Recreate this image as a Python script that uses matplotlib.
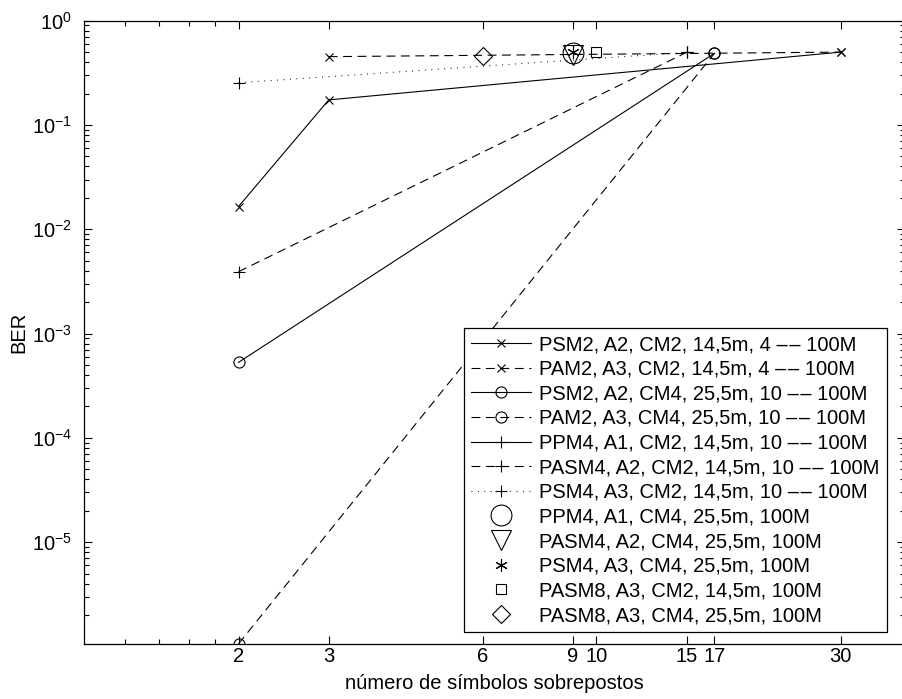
import numpy as np
import matplotlib
matplotlib.use("Agg")
import matplotlib.pyplot as plt
import matplotlib.ticker as ticker

plt.rcParams['font.family'] = ['Liberation Sans', 'DejaVu Sans']
plt.rcParams['mathtext.default'] = 'regular'

# data (BER vs number of overlapped symbols)
x_psm2_cm2 = [2, 3, 30]
ber_psm2_cm2 = [0.0165, 0.174, 0.5]
x_pam2_cm2 = [3, 30]
ber_pam2_cm2 = [0.452, 0.5]
x_psm2_cm4 = [2, 17]
ber_psm2_cm4 = [5.3e-4, 0.487]
x_pam2_cm4 = [2, 17]
ber_pam2_cm4 = [1.06e-6, 0.487]
x_ppm4_cm2 = [15]
ber_ppm4_cm2 = [0.497]
x_pasm4_cm2 = [2, 15]
ber_pasm4_cm2 = [3.92e-3, 0.497]
x_psm4_cm2 = [2, 15]
ber_psm4_cm2 = [0.254, 0.497]
x_ppm4_cm4 = [9]
ber_ppm4_cm4 = [0.487]
x_pasm4_cm4 = [9]
ber_pasm4_cm4 = [0.47]
x_psm4_cm4 = [9]
ber_psm4_cm4 = [0.497]
x_pasm8_cm2 = [10]
ber_pasm8_cm2 = [0.5]
x_pasm8_cm4 = [6]
ber_pasm8_cm4 = [0.462]

xticks = [2, 3, 6, 9, 10, 15, 17, 30]
xminor = [1.2, 1.4, 1.6, 1.8]
yticks = [1e-5, 1e-4, 1e-3, 1e-2, 1e-1, 1e0]

dd = '\u2013\u200a\u2013'
labels = ['PSM2, A2, CM2, 14,5m, 4 ' + dd + ' 100M',
          'PAM2, A3, CM2, 14,5m, 4 ' + dd + ' 100M',
          'PSM2, A2, CM4, 25,5m, 10 ' + dd + ' 100M',
          'PAM2, A3, CM4, 25,5m, 10 ' + dd + ' 100M',
          'PPM4, A1, CM2, 14,5m, 10 ' + dd + ' 100M',
          'PASM4, A2, CM2, 14,5m, 10 ' + dd + ' 100M',
          'PSM4, A3, CM2, 14,5m, 10 ' + dd + ' 100M',
          'PPM4, A1, CM4, 25,5m, 100M',
          'PASM4, A2, CM4, 25,5m, 100M',
          'PSM4, A3, CM4, 25,5m, 100M',
          'PASM8, A3, CM2, 14,5m, 100M',
          'PASM8, A3, CM4, 25,5m, 100M']

fs = 14.5
fig = plt.figure(figsize=(9.03, 6.99), dpi=100)
ax = fig.add_axes([0.0934, 0.0787, 0.9086, 0.8917])

dash = (0, (8, 5))
dot = (0, (0.8, 5))
lw = 0.8
k = dict(color='k', lw=lw, mfc='none', mec='k', mew=0.8)

ax.plot(x_psm2_cm2, ber_psm2_cm2, ls='-', marker='x', ms=6, label=labels[0], **k)
ax.plot(x_pam2_cm2, ber_pam2_cm2, ls=dash, marker='x', ms=6, label=labels[1], **k)
ax.plot(x_psm2_cm4, ber_psm2_cm4, ls='-', marker='o', ms=8, label=labels[2], **k)
ax.plot(x_pam2_cm4, ber_pam2_cm4, ls=dash, marker='o', ms=8, label=labels[3], **k)
ax.plot(x_ppm4_cm2, ber_ppm4_cm2, ls='-', marker='+', ms=9, label=labels[4], **k)
ax.plot(x_pasm4_cm2, ber_pasm4_cm2, ls=dash, marker='+', ms=9, label=labels[5], **k)
ax.plot(x_psm4_cm2, ber_psm4_cm2, ls=dot, marker='+', ms=9, label=labels[6], **k)
ax.plot(x_ppm4_cm4, ber_ppm4_cm4, ls='none', marker='o', ms=15, label=labels[7], **k)
ax.plot(x_pasm4_cm4, ber_pasm4_cm4, ls='none', marker='v', ms=14, label=labels[8], **k)
ax.plot(x_psm4_cm4, ber_psm4_cm4, ls='none', marker=(6, 2, 0), ms=9, label=labels[9], **k)
ax.plot(x_pasm8_cm2, ber_pasm8_cm2, ls='none', marker='s', ms=7, label=labels[10], **k)
ax.plot(x_pasm8_cm4, ber_pasm8_cm4, ls='none', marker='D', ms=9, label=labels[11], **k)

ax.set_xscale('log')
ax.set_yscale('log')
ax.set_xlim(1, 40)
ax.set_ylim(1.057e-6, 1)

ax.xaxis.set_major_locator(ticker.FixedLocator(xticks))
ax.xaxis.set_major_formatter(ticker.FixedFormatter([str(t) for t in xticks]))
ax.xaxis.set_minor_locator(ticker.FixedLocator(xminor))
ax.xaxis.set_minor_formatter(ticker.NullFormatter())
ax.yaxis.set_major_locator(ticker.FixedLocator(yticks))
ax.yaxis.set_minor_locator(ticker.LogLocator(base=10, subs=np.arange(2, 10), numticks=20))
ax.yaxis.set_minor_formatter(ticker.NullFormatter())

ax.tick_params(which='both', direction='in', top=True, right=True, labelsize=fs, width=0.8)
ax.tick_params(which='major', length=6)
ax.tick_params(which='minor', length=3.5)
ax.tick_params(axis='x', which='major', pad=2)
ax.tick_params(axis='y', which='major', pad=9)
for s in ax.spines.values():
    s.set_linewidth(0.9)

ax.set_xlabel('número de símbolos sobrepostos', fontsize=fs, labelpad=6)
ax.set_ylabel('BER', fontsize=fs, labelpad=2)

leg = ax.legend(loc='lower right', bbox_to_anchor=(0.978, 0.019), borderaxespad=0,
                numpoints=1, fontsize=fs, handlelength=3.0, handletextpad=0.4,
                labelspacing=0.28, borderpad=0.35, fancybox=False, framealpha=1,
                edgecolor='k')
leg.get_frame().set_linewidth(0.9)

fig.savefig('out.png', dpi=100)
